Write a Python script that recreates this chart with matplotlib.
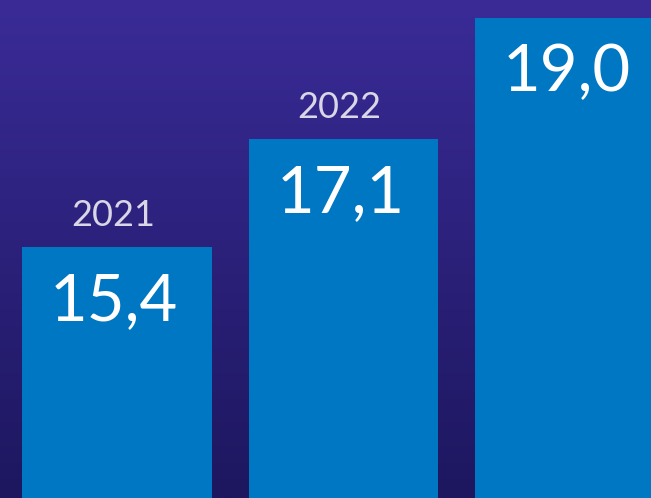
import matplotlib
matplotlib.use("Agg")
import matplotlib.pyplot as plt
import numpy as np
from matplotlib.colors import LinearSegmentedColormap

years = ["2021", "2022", "2023"]
values = [15.4, 17.1, 19.0]
value_labels = ["15,4", "17,1", "19,0"]

BAR_COLOR = "#0077c2"
TOP_BG = "#3a2b97"
BOT_BG = "#1d175f"

fig = plt.figure(figsize=(6.51, 4.98), dpi=100)
ax = fig.add_axes([0, 0, 1, 1])

ymin, ymax = 11.47, 19.28
xmin, xmax = -0.517, 2.358

# gradient background
grad = np.linspace(0, 1, 256).reshape(-1, 1)
cmap = LinearSegmentedColormap.from_list("bg", [BOT_BG, TOP_BG])
ax.imshow(grad, extent=[xmin, xmax, ymin, ymax], origin="lower",
          aspect="auto", cmap=cmap, zorder=0)

x = np.arange(len(values))
ax.bar(x, [v - ymin for v in values], bottom=ymin, width=0.839,
       color=BAR_COLOR, zorder=2)

for xi, v, lab, yr in zip(x, values, value_labels, years):
    ax.annotate(lab, xy=(xi, v), xytext=(-2, -18), textcoords="offset points",
                ha="center", va="top", color="white", fontsize=47,
                family="Lato", fontweight="normal", zorder=3)
    # year label above bar, only if it fits within the canvas
    if v + 0.6 < ymax:
        ax.annotate(yr, xy=(xi, v), xytext=(-3, 11), textcoords="offset points",
                    ha="center", va="bottom", color="#d9d6e6", fontsize=26,
                    family="Lato", fontweight="normal", zorder=3)

ax.set_xlim(xmin, xmax)
ax.set_ylim(ymin, ymax)
ax.axis("off")

fig.savefig("out.png", dpi=100)
